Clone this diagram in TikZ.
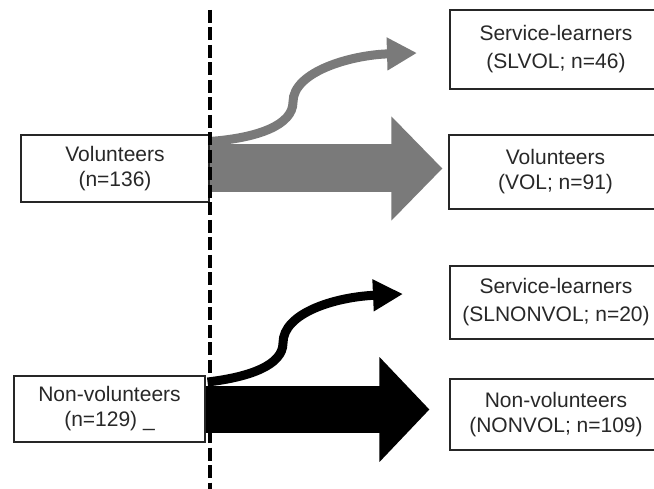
\documentclass[tikz,border=0pt]{standalone}
\usepackage{fontspec}
\setmainfont{Liberation Sans}
\usetikzlibrary{arrows.meta}
\definecolor{flowgray}{RGB}{122,122,122}
\definecolor{txt}{RGB}{40,40,40}
\tikzset{
  box/.style={draw=black!85, line width=1.1pt, fill=white, rectangle, inner sep=0pt,
    align=center, text=txt, font=\fontsize{21}{25}\selectfont},
  curveflow/.style={line width=9pt},
}
\begin{document}
\begin{tikzpicture}[x=1pt,y=-1pt]
\useasboundingbox (0,0) rectangle (654,489);
\clip (0,0) rectangle (654,489);
% left boxes
\node[box, minimum width=188pt, minimum height=67pt] (vol) at (115,168.5) {Volunteers\\(n=136)};
\node[box, minimum width=191pt, minimum height=66pt] (nonvol) at (109.5,409) {Non-volunteers\\(n=129) \_};
% right boxes (cut by the right edge)
\node[box, minimum width=212pt, minimum height=79pt, font=\fontsize{21}{28}\selectfont] (slvol) at (556,49.5) {Service-learners\\(SLVOL; n=46)};
\node[box, minimum width=213pt, minimum height=74pt] (volout) at (555.5,172) {Volunteers\\(VOL; n=91)};
\node[box, minimum width=212pt, minimum height=73pt, font=\fontsize{21}{28}\selectfont] (slnon) at (556,302.5) {Service-learners\\(SLNONVOL; n=20)};
\node[box, minimum width=212pt, minimum height=71pt] (nonout) at (556,414.5) {Non-volunteers\\(NONVOL; n=109)};
% arrow end points
\coordinate (gtip) at (417,53);
\coordinate (btip) at (403,294);
% gray flows
\draw[flowgray, line width=48pt, -{Triangle[length=51pt,width=101pt]}, shorten >=6pt]
  (vol.east) -- (vol.east -| volout.west);
\draw[flowgray, curveflow, -{Triangle[length=30pt,width=31pt]}]
  ([yshift=27pt]vol.east) .. controls (258,138) and (293,125) .. (293,102)
  .. controls (293,72) and (350,55) .. (gtip);
% black flows
\draw[black, line width=47pt, -{Triangle[length=50pt,width=102pt]}, shorten >=20pt]
  ([yshift=-0.5pt]nonvol.east) -- ([yshift=-0.5pt]nonvol.east -| nonout.west);
\draw[black, curveflow, -{Triangle[length=30pt,width=30pt]}]
  ([xshift=2pt,yshift=27pt]nonvol.east) .. controls (250,377) and (283,365) .. (283,343)
  .. controls (283,313) and (335,297) .. (btip);
% dashed divider
\coordinate (dtop) at (210,10);
\coordinate (dbot) at (210,489);
\draw[black, line width=4.5pt, dash pattern=on 13pt off 4.5pt] (dtop) -- (dbot);
\end{tikzpicture}
\end{document}
